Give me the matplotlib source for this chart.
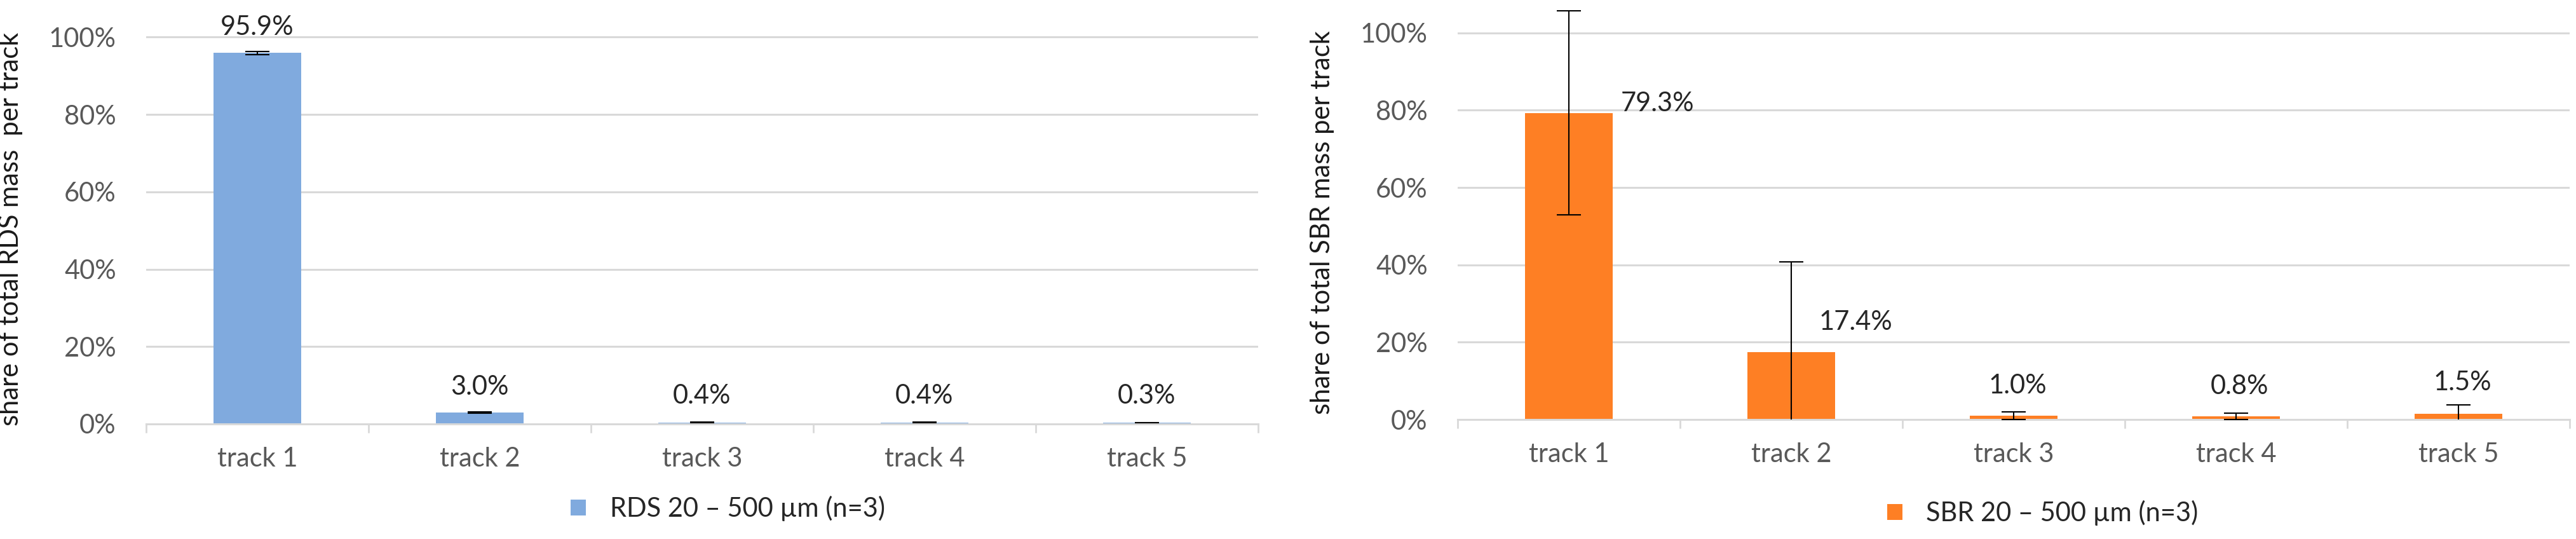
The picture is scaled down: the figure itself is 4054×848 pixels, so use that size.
import matplotlib.pyplot as plt

plt.rcParams['font.family'] = ['Lato', 'DejaVu Sans']

tracks = ["track 1", "track 2", "track 3", "track 4", "track 5"]

rds_share = [95.9, 3.0, 0.4, 0.4, 0.3]
rds_err = [0.4, 0.2, 0.1, 0.1, 0.05]
rds_labels = ["95.9%", "3.0%", "0.4%", "0.4%", "0.3%"]

sbr_share = [79.3, 17.4, 1.0, 0.8, 1.5]
sbr_err = [26.4, 23.4, 1.0, 0.8, 2.2]
sbr_labels = ["79.3%", "17.4%", "1.0%", "0.8%", "1.5%"]

# label offsets from bar top, in pixels (dx, dy)
rds_offsets = [(0, 40), (0, 40), (0, 42), (0, 42), (0, 42)]
sbr_offsets = [(140, 15), (101, 47), (6, 47), (6, 47), (6, 49)]

BLUE = "#80AADE"
ORANGE = "#FE7F24"
GRID = "#D9D9D9"
FS = 30

fig = plt.figure(figsize=(40.54, 8.48), dpi=100)


def panel(rect, values, errs, labels, offsets, color, ylabel, legend, ytop, ylab_y, leg_xy):
    ax = fig.add_axes(rect)
    x = list(range(len(tracks)))
    vals = [v / 100 for v in values]
    ax.bar(x, vals, width=0.394, color=color, label=legend, zorder=2)
    ax.errorbar(x, vals, yerr=[e / 100 for e in errs], fmt="none", ecolor="black",
                elinewidth=1.5, capsize=14, capthick=1.5, zorder=3)
    for xi, v, lab, (dx, dy) in zip(x, vals, labels, offsets):
        ax.annotate(lab, (xi, v), xytext=(dx * 0.72, dy * 0.72), textcoords="offset points",
                    ha="center", va="center", fontsize=FS, color="#262626")

    ax.set_xlim(-0.5, len(tracks) - 0.5)
    ax.set_ylim(0, ytop)
    ax.set_yticks([0, 0.2, 0.4, 0.6, 0.8, 1.0])
    ax.set_yticklabels(["0%", "20%", "40%", "60%", "80%", "100%"])
    ax.set_xticks(x)
    ax.set_xticklabels(tracks)
    ax.set_xticks([i - 0.5 for i in range(len(tracks) + 1)], minor=True)
    ax.tick_params(axis="x", which="major", length=0, pad=26, labelsize=FS, labelcolor="#595959")
    ax.tick_params(axis="x", which="minor", length=10, width=2, color=GRID)
    ax.tick_params(axis="y", length=0, pad=34, labelsize=FS, labelcolor="#595959")
    ax.grid(axis="y", color=GRID, linewidth=2.2, zorder=0)
    ax.set_axisbelow(True)
    for s in ["top", "right", "left"]:
        ax.spines[s].set_visible(False)
    ax.spines["bottom"].set_color(GRID)
    ax.spines["bottom"].set_linewidth(2.2)

    ax.set_ylabel(ylabel, fontsize=FS, color="#1a1a1a")
    ax.yaxis.set_label_coords(-0.111, ylab_y)

    ax.legend(loc="center", bbox_to_anchor=leg_xy, frameon=False, fontsize=FS,
              handlelength=0.58, handleheight=0.55, handletextpad=0.9,
              labelcolor="#262626")
    return ax


panel([230 / 4054, 1 - 667 / 848, 1750 / 4054, 667 / 848], rds_share, rds_err, rds_labels,
      rds_offsets, BLUE, "share of total RDS mass  per track", "RDS 20 – 500 µm (n=3)",
      1.096, 0.46, (0.523, -0.2))
panel([2294 / 4054, 1 - 660 / 848, 1750 / 4054, 660 / 848], sbr_share, sbr_err, sbr_labels,
      sbr_offsets, ORANGE, "share of total SBR mass per track", "SBR 20 – 500 µm (n=3)",
      1.085, 0.47, (0.526, -0.223))

fig.savefig("out.png", dpi=100)
